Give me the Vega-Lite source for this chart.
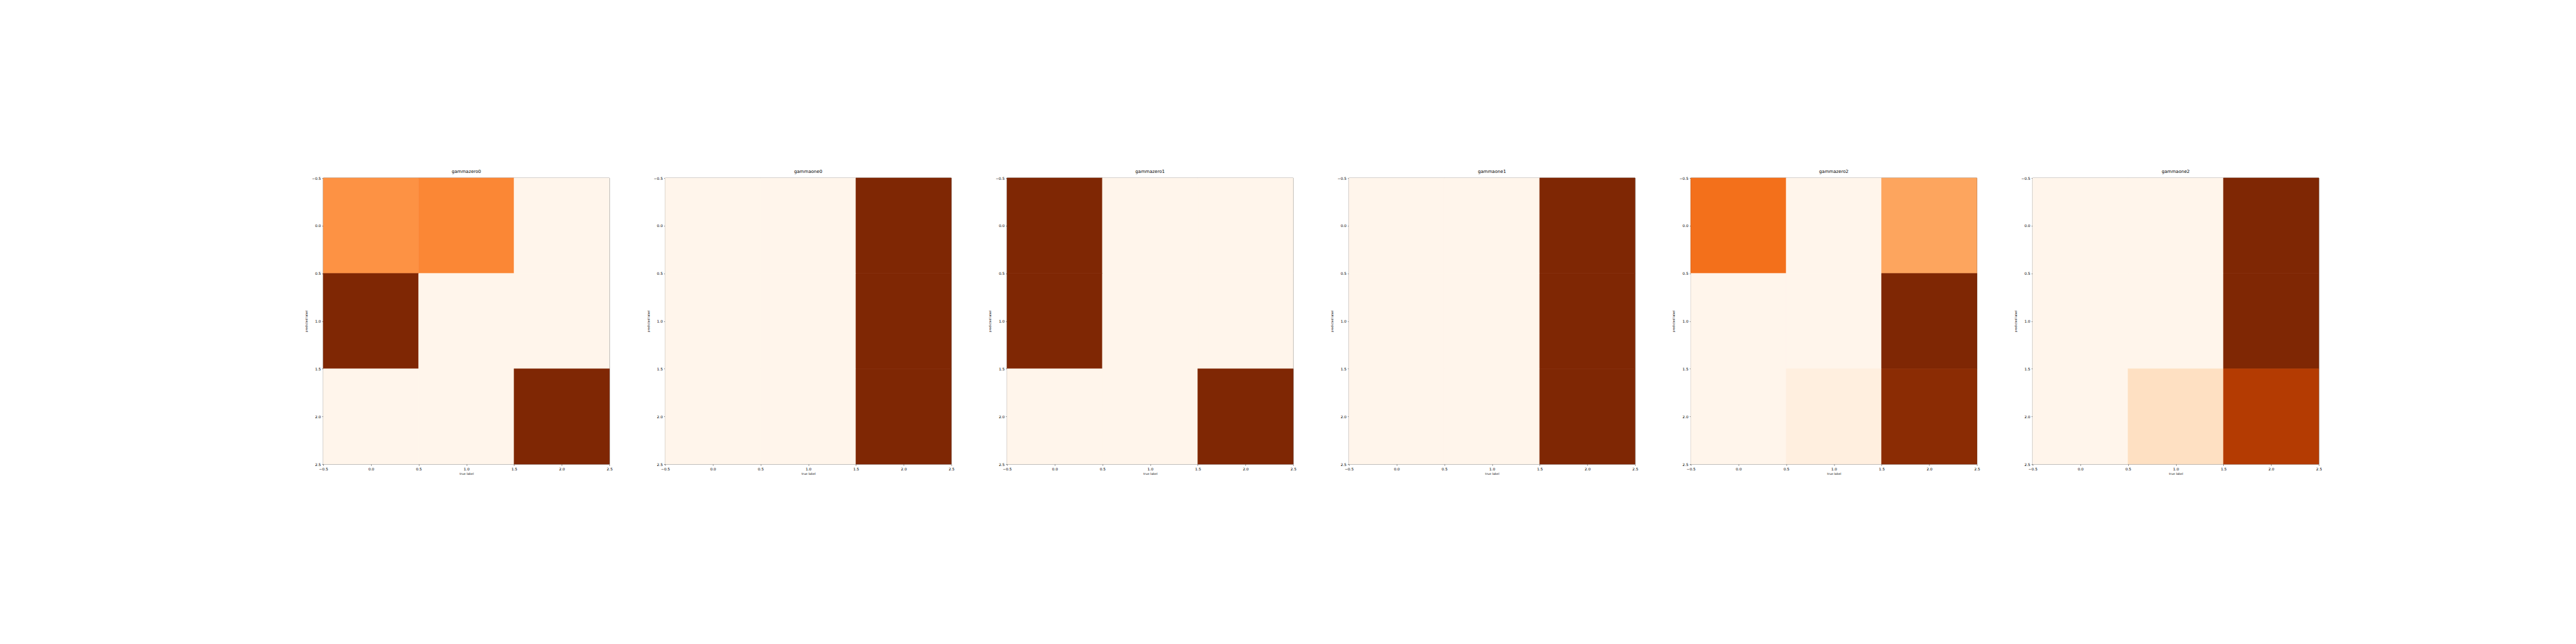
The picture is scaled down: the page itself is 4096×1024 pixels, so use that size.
{
  "$schema": "https://vega.github.io/schema/vega-lite/v6.json",
  "autosize": {"type": "pad"},
  "padding": {"left": 484, "top": 269, "right": 0, "bottom": 0},
  "background": "white",
  "data": {"values": [
    {"panel": "gammazero0", "p": 0, "t": 0, "v": 0.48},
    {"panel": "gammazero0", "p": 0, "t": 1, "v": 0.52},
    {"panel": "gammazero0", "p": 0, "t": 2, "v": 0},
    {"panel": "gammazero0", "p": 1, "t": 0, "v": 1},
    {"panel": "gammazero0", "p": 1, "t": 1, "v": 0},
    {"panel": "gammazero0", "p": 1, "t": 2, "v": 0},
    {"panel": "gammazero0", "p": 2, "t": 0, "v": 0},
    {"panel": "gammazero0", "p": 2, "t": 1, "v": 0},
    {"panel": "gammazero0", "p": 2, "t": 2, "v": 1},
    {"panel": "gammaone0", "p": 0, "t": 0, "v": 0},
    {"panel": "gammaone0", "p": 0, "t": 1, "v": 0},
    {"panel": "gammaone0", "p": 0, "t": 2, "v": 1},
    {"panel": "gammaone0", "p": 1, "t": 0, "v": 0},
    {"panel": "gammaone0", "p": 1, "t": 1, "v": 0},
    {"panel": "gammaone0", "p": 1, "t": 2, "v": 1},
    {"panel": "gammaone0", "p": 2, "t": 0, "v": 0},
    {"panel": "gammaone0", "p": 2, "t": 1, "v": 0},
    {"panel": "gammaone0", "p": 2, "t": 2, "v": 1},
    {"panel": "gammazero1", "p": 0, "t": 0, "v": 1},
    {"panel": "gammazero1", "p": 0, "t": 1, "v": 0},
    {"panel": "gammazero1", "p": 0, "t": 2, "v": 0},
    {"panel": "gammazero1", "p": 1, "t": 0, "v": 1},
    {"panel": "gammazero1", "p": 1, "t": 1, "v": 0},
    {"panel": "gammazero1", "p": 1, "t": 2, "v": 0},
    {"panel": "gammazero1", "p": 2, "t": 0, "v": 0},
    {"panel": "gammazero1", "p": 2, "t": 1, "v": 0},
    {"panel": "gammazero1", "p": 2, "t": 2, "v": 1},
    {"panel": "gammaone1", "p": 0, "t": 0, "v": 0},
    {"panel": "gammaone1", "p": 0, "t": 1, "v": 0},
    {"panel": "gammaone1", "p": 0, "t": 2, "v": 1},
    {"panel": "gammaone1", "p": 1, "t": 0, "v": 0},
    {"panel": "gammaone1", "p": 1, "t": 1, "v": 0},
    {"panel": "gammaone1", "p": 1, "t": 2, "v": 1},
    {"panel": "gammaone1", "p": 2, "t": 0, "v": 0},
    {"panel": "gammaone1", "p": 2, "t": 1, "v": 0},
    {"panel": "gammaone1", "p": 2, "t": 2, "v": 1},
    {"panel": "gammazero2", "p": 0, "t": 0, "v": 0.6},
    {"panel": "gammazero2", "p": 0, "t": 1, "v": 0},
    {"panel": "gammazero2", "p": 0, "t": 2, "v": 0.41},
    {"panel": "gammazero2", "p": 1, "t": 0, "v": 0},
    {"panel": "gammazero2", "p": 1, "t": 1, "v": 0},
    {"panel": "gammazero2", "p": 1, "t": 2, "v": 1},
    {"panel": "gammazero2", "p": 2, "t": 0, "v": 0},
    {"panel": "gammazero2", "p": 2, "t": 1, "v": 0.05},
    {"panel": "gammazero2", "p": 2, "t": 2, "v": 0.96},
    {"panel": "gammaone2", "p": 0, "t": 0, "v": 0},
    {"panel": "gammaone2", "p": 0, "t": 1, "v": 0},
    {"panel": "gammaone2", "p": 0, "t": 2, "v": 1},
    {"panel": "gammaone2", "p": 1, "t": 0, "v": 0},
    {"panel": "gammaone2", "p": 1, "t": 1, "v": 0},
    {"panel": "gammaone2", "p": 1, "t": 2, "v": 1},
    {"panel": "gammaone2", "p": 2, "t": 0, "v": 0},
    {"panel": "gammaone2", "p": 2, "t": 1, "v": 0.16},
    {"panel": "gammaone2", "p": 2, "t": 2, "v": 0.84}
  ]},
  "transform": [
    {"calculate": "datum.t - 0.5", "as": "x0"},
    {"calculate": "datum.t + 0.5", "as": "x1"},
    {"calculate": "datum.p - 0.5", "as": "y0"},
    {"calculate": "datum.p + 0.5", "as": "y1"}
  ],
  "spacing": 88.6,
  "bounds": "flush",
  "hconcat": [
    {"title": "gammazero0", "width": 455, "height": 455, "transform": [{"filter": "datum.panel == 'gammazero0'"}], "mark": {"type": "rect", "strokeWidth": 0.6},
     "encoding": {
      "x": {"field": "x0", "type": "quantitative", "scale": {"domain": [-0.5, 2.5], "nice": false, "zero": false}, "axis": {"title": "true label", "values": [-0.5, 0, 0.5, 1, 1.5, 2, 2.5], "format": ".1f"}},
      "x2": {"field": "x1"},
      "y": {"field": "y0", "type": "quantitative", "scale": {"domain": [-0.5, 2.5], "nice": false, "zero": false, "reverse": true}, "axis": {"title": "predicted label", "values": [-0.5, 0, 0.5, 1, 1.5, 2, 2.5], "format": ".1f"}},
      "y2": {"field": "y1"},
      "color": {"field": "v", "type": "quantitative", "scale": {"type": "linear", "domain": [0, 0.125, 0.25, 0.375, 0.5, 0.625, 0.75, 0.875, 1], "range": ["#fff5eb", "#fee6ce", "#fdd0a2", "#fdae6b", "#fd8d3c", "#f16913", "#d94801", "#a63603", "#7f2704"], "interpolate": "rgb"}, "legend": null},
      "stroke": {"field": "v", "type": "quantitative", "scale": {"type": "linear", "domain": [0, 0.125, 0.25, 0.375, 0.5, 0.625, 0.75, 0.875, 1], "range": ["#fff5eb", "#fee6ce", "#fdd0a2", "#fdae6b", "#fd8d3c", "#f16913", "#d94801", "#a63603", "#7f2704"], "interpolate": "rgb"}, "legend": null}
     }},
    {"title": "gammaone0", "width": 455, "height": 455, "transform": [{"filter": "datum.panel == 'gammaone0'"}], "mark": {"type": "rect", "strokeWidth": 0.6},
     "encoding": {
      "x": {"field": "x0", "type": "quantitative", "scale": {"domain": [-0.5, 2.5], "nice": false, "zero": false}, "axis": {"title": "true label", "values": [-0.5, 0, 0.5, 1, 1.5, 2, 2.5], "format": ".1f"}},
      "x2": {"field": "x1"},
      "y": {"field": "y0", "type": "quantitative", "scale": {"domain": [-0.5, 2.5], "nice": false, "zero": false, "reverse": true}, "axis": {"title": "predicted label", "values": [-0.5, 0, 0.5, 1, 1.5, 2, 2.5], "format": ".1f"}},
      "y2": {"field": "y1"},
      "color": {"field": "v", "type": "quantitative", "scale": {"type": "linear", "domain": [0, 0.125, 0.25, 0.375, 0.5, 0.625, 0.75, 0.875, 1], "range": ["#fff5eb", "#fee6ce", "#fdd0a2", "#fdae6b", "#fd8d3c", "#f16913", "#d94801", "#a63603", "#7f2704"], "interpolate": "rgb"}, "legend": null},
      "stroke": {"field": "v", "type": "quantitative", "scale": {"type": "linear", "domain": [0, 0.125, 0.25, 0.375, 0.5, 0.625, 0.75, 0.875, 1], "range": ["#fff5eb", "#fee6ce", "#fdd0a2", "#fdae6b", "#fd8d3c", "#f16913", "#d94801", "#a63603", "#7f2704"], "interpolate": "rgb"}, "legend": null}
     }},
    {"title": "gammazero1", "width": 455, "height": 455, "transform": [{"filter": "datum.panel == 'gammazero1'"}], "mark": {"type": "rect", "strokeWidth": 0.6},
     "encoding": {
      "x": {"field": "x0", "type": "quantitative", "scale": {"domain": [-0.5, 2.5], "nice": false, "zero": false}, "axis": {"title": "true label", "values": [-0.5, 0, 0.5, 1, 1.5, 2, 2.5], "format": ".1f"}},
      "x2": {"field": "x1"},
      "y": {"field": "y0", "type": "quantitative", "scale": {"domain": [-0.5, 2.5], "nice": false, "zero": false, "reverse": true}, "axis": {"title": "predicted label", "values": [-0.5, 0, 0.5, 1, 1.5, 2, 2.5], "format": ".1f"}},
      "y2": {"field": "y1"},
      "color": {"field": "v", "type": "quantitative", "scale": {"type": "linear", "domain": [0, 0.125, 0.25, 0.375, 0.5, 0.625, 0.75, 0.875, 1], "range": ["#fff5eb", "#fee6ce", "#fdd0a2", "#fdae6b", "#fd8d3c", "#f16913", "#d94801", "#a63603", "#7f2704"], "interpolate": "rgb"}, "legend": null},
      "stroke": {"field": "v", "type": "quantitative", "scale": {"type": "linear", "domain": [0, 0.125, 0.25, 0.375, 0.5, 0.625, 0.75, 0.875, 1], "range": ["#fff5eb", "#fee6ce", "#fdd0a2", "#fdae6b", "#fd8d3c", "#f16913", "#d94801", "#a63603", "#7f2704"], "interpolate": "rgb"}, "legend": null}
     }},
    {"title": "gammaone1", "width": 455, "height": 455, "transform": [{"filter": "datum.panel == 'gammaone1'"}], "mark": {"type": "rect", "strokeWidth": 0.6},
     "encoding": {
      "x": {"field": "x0", "type": "quantitative", "scale": {"domain": [-0.5, 2.5], "nice": false, "zero": false}, "axis": {"title": "true label", "values": [-0.5, 0, 0.5, 1, 1.5, 2, 2.5], "format": ".1f"}},
      "x2": {"field": "x1"},
      "y": {"field": "y0", "type": "quantitative", "scale": {"domain": [-0.5, 2.5], "nice": false, "zero": false, "reverse": true}, "axis": {"title": "predicted label", "values": [-0.5, 0, 0.5, 1, 1.5, 2, 2.5], "format": ".1f"}},
      "y2": {"field": "y1"},
      "color": {"field": "v", "type": "quantitative", "scale": {"type": "linear", "domain": [0, 0.125, 0.25, 0.375, 0.5, 0.625, 0.75, 0.875, 1], "range": ["#fff5eb", "#fee6ce", "#fdd0a2", "#fdae6b", "#fd8d3c", "#f16913", "#d94801", "#a63603", "#7f2704"], "interpolate": "rgb"}, "legend": null},
      "stroke": {"field": "v", "type": "quantitative", "scale": {"type": "linear", "domain": [0, 0.125, 0.25, 0.375, 0.5, 0.625, 0.75, 0.875, 1], "range": ["#fff5eb", "#fee6ce", "#fdd0a2", "#fdae6b", "#fd8d3c", "#f16913", "#d94801", "#a63603", "#7f2704"], "interpolate": "rgb"}, "legend": null}
     }},
    {"title": "gammazero2", "width": 455, "height": 455, "transform": [{"filter": "datum.panel == 'gammazero2'"}], "mark": {"type": "rect", "strokeWidth": 0.6},
     "encoding": {
      "x": {"field": "x0", "type": "quantitative", "scale": {"domain": [-0.5, 2.5], "nice": false, "zero": false}, "axis": {"title": "true label", "values": [-0.5, 0, 0.5, 1, 1.5, 2, 2.5], "format": ".1f"}},
      "x2": {"field": "x1"},
      "y": {"field": "y0", "type": "quantitative", "scale": {"domain": [-0.5, 2.5], "nice": false, "zero": false, "reverse": true}, "axis": {"title": "predicted label", "values": [-0.5, 0, 0.5, 1, 1.5, 2, 2.5], "format": ".1f"}},
      "y2": {"field": "y1"},
      "color": {"field": "v", "type": "quantitative", "scale": {"type": "linear", "domain": [0, 0.125, 0.25, 0.375, 0.5, 0.625, 0.75, 0.875, 1], "range": ["#fff5eb", "#fee6ce", "#fdd0a2", "#fdae6b", "#fd8d3c", "#f16913", "#d94801", "#a63603", "#7f2704"], "interpolate": "rgb"}, "legend": null},
      "stroke": {"field": "v", "type": "quantitative", "scale": {"type": "linear", "domain": [0, 0.125, 0.25, 0.375, 0.5, 0.625, 0.75, 0.875, 1], "range": ["#fff5eb", "#fee6ce", "#fdd0a2", "#fdae6b", "#fd8d3c", "#f16913", "#d94801", "#a63603", "#7f2704"], "interpolate": "rgb"}, "legend": null}
     }},
    {"title": "gammaone2", "width": 455, "height": 455, "transform": [{"filter": "datum.panel == 'gammaone2'"}], "mark": {"type": "rect", "strokeWidth": 0.6},
     "encoding": {
      "x": {"field": "x0", "type": "quantitative", "scale": {"domain": [-0.5, 2.5], "nice": false, "zero": false}, "axis": {"title": "true label", "values": [-0.5, 0, 0.5, 1, 1.5, 2, 2.5], "format": ".1f"}},
      "x2": {"field": "x1"},
      "y": {"field": "y0", "type": "quantitative", "scale": {"domain": [-0.5, 2.5], "nice": false, "zero": false, "reverse": true}, "axis": {"title": "predicted label", "values": [-0.5, 0, 0.5, 1, 1.5, 2, 2.5], "format": ".1f"}},
      "y2": {"field": "y1"},
      "color": {"field": "v", "type": "quantitative", "scale": {"type": "linear", "domain": [0, 0.125, 0.25, 0.375, 0.5, 0.625, 0.75, 0.875, 1], "range": ["#fff5eb", "#fee6ce", "#fdd0a2", "#fdae6b", "#fd8d3c", "#f16913", "#d94801", "#a63603", "#7f2704"], "interpolate": "rgb"}, "legend": null},
      "stroke": {"field": "v", "type": "quantitative", "scale": {"type": "linear", "domain": [0, 0.125, 0.25, 0.375, 0.5, 0.625, 0.75, 0.875, 1], "range": ["#fff5eb", "#fee6ce", "#fdd0a2", "#fdae6b", "#fd8d3c", "#f16913", "#d94801", "#a63603", "#7f2704"], "interpolate": "rgb"}, "legend": null}
     }}
  ],
  "resolve": {"scale": {"color": "shared", "stroke": "shared"}},
  "config": {
    "view": {"stroke": "black", "strokeWidth": 0.6},
    "title": {"font": "DejaVu Sans", "fontSize": 7.1, "fontWeight": "normal", "color": "black", "offset": 3.5, "anchor": "middle"},
    "axis": {
      "labelFont": "DejaVu Sans", "labelFontSize": 5.9, "labelColor": "black",
      "labelPadding": 2.1, "labelFlush": false, "labelOverlap": false,
      "tickColor": "black", "tickSize": 2.1, "tickWidth": 0.5,
      "domain": false, "grid": false,
      "titleFont": "DejaVu Sans", "titleFontSize": 4.7, "titleFontWeight": "normal", "titleColor": "black"
    },
    "axisX": {"titlePadding": 2},
    "axisY": {"titlePadding": 6}
  }
}
